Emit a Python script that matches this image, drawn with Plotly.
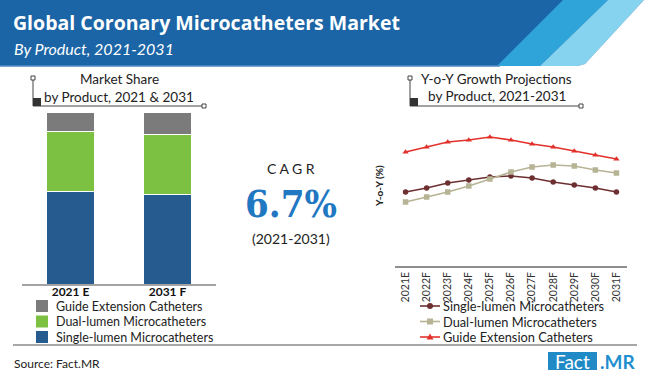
import plotly.graph_objects as go

W, H = 650, 379

# ---------------- data ----------------
bar_categories = ["2021 E", "2031 F"]
single_share = [53.5, 52.3]
dual_share = [34.9, 34.9]
guide_share = [11.6, 12.8]

years = ["2021E", "2022F", "2023F", "2024F", "2025F", "2026F",
         "2027F", "2028F", "2029F", "2030F", "2031F"]
single_yoy = [7.4, 7.8, 8.3, 8.6, 8.9, 9.0, 8.8, 8.4, 8.1, 7.8, 7.4]
dual_yoy = [6.4, 6.9, 7.4, 8.0, 8.7, 9.4, 9.9, 10.1, 10.0, 9.6, 9.3]
guide_yoy = [11.4, 11.9, 12.4, 12.6, 12.9, 12.6, 12.2, 11.9, 11.5, 11.1, 10.7]

name_single = "Single-lumen Microcatheters"
name_dual = "Dual-lumen Microcatheters"
name_guide = "Guide Extension Catheters"

title_text = "Global Coronary Microcatheters Market"
subtitle_text = "By Product, 2021-2031"
cagr_value = "6.7%"
cagr_period = "(2021-2031)"

# ---------------- styles ----------------
C_BLUE_BAR = "#255b8e"
C_GREEN = "#7cc142"
C_GREY = "#7b7b7b"
C_RED = "#e2312b"
C_BROWN = "#6d2f30"
C_TAN = "#b7b395"
HEAD = "#1b65a6"
FONT = "Lato"


def px(x):
    return x / W


def py(y):
    return 1 - y / H


fig = go.Figure()

# stacked bars
for vals, name, col in [(single_share, name_single, C_BLUE_BAR),
                        (dual_share, name_dual, C_GREEN),
                        (guide_share, name_guide, C_GREY)]:
    fig.add_trace(go.Bar(x=bar_categories, y=vals, name=name, marker_color=col,
                         marker_line_color="white", marker_line_width=1,
                         width=0.49, xaxis="x", yaxis="y", showlegend=False))

# lines
for vals, name, col, sym in [(single_yoy, name_single, C_BROWN, "circle"),
                             (dual_yoy, name_dual, C_TAN, "square"),
                             (guide_yoy, name_guide, C_RED, "triangle-up")]:
    fig.add_trace(go.Scatter(x=years, y=vals, name=name, mode="lines+markers",
                             line=dict(color=col, width=1.6),
                             marker=dict(color=col, size=5.5, symbol=sym),
                             xaxis="x2", yaxis="y2", showlegend=False))

shapes = []
ann = []

# header
shapes.append(dict(type="rect", xref="paper", yref="paper", x0=0, x1=1,
                   y0=py(66), y1=1, fillcolor=HEAD, line_width=0, layer="below"))
shapes.append(dict(type="path", xref="paper", yref="paper",
                   path=f"M {px(563)} {py(0)} L {px(608)} {py(0)} L {px(540)} {py(66)} L {px(497)} {py(66)} Z",
                   fillcolor="#2ea4d9", line_width=0, layer="below"))
shapes.append(dict(type="path", xref="paper", yref="paper",
                   path=f"M {px(608)} {py(0)} L {px(644)} {py(0)} L {px(585)} {py(64)} L {px(578)} {py(66)} L {px(540)} {py(66)} Z",
                   fillcolor="#86d3f0", line_width=0, layer="below"))
shapes.append(dict(type="path", xref="paper", yref="paper",
                   path=f"M {px(644)} {py(0)} L {px(650)} {py(0)} L {px(650)} {py(66)} L {px(578)} {py(66)} L {px(585)} {py(64)} Z",
                   fillcolor="white", line_width=0, layer="below"))
shapes.append(dict(type="line", xref="paper", yref="paper", x0=0, x1=px(500),
                   y0=py(66), y1=py(66), line=dict(color="#4f8cc4", width=1.5)))

ann.append(dict(text=f"<b>{title_text}</b>", x=px(11), y=py(22), xref="paper", yref="paper",
                xanchor="left", yanchor="middle", showarrow=False,
                font=dict(family="Open Sans", size=19.5, color="white")))
ann.append(dict(text=f"<i>{subtitle_text}</i>", x=px(12), y=py(48), xref="paper", yref="paper",
                xanchor="left", yanchor="middle", showarrow=False,
                font=dict(family=FONT, size=16, color="white")))


def bracket(xl, xr, ytop, ybot):
    out = []
    out.append(dict(type="line", xref="paper", yref="paper", x0=px(xl), x1=px(xl),
                    y0=py(ytop + 2), y1=py(ybot), line=dict(color="#444", width=1)))
    out.append(dict(type="line", xref="paper", yref="paper", x0=px(xl), x1=px(xr - 2),
                    y0=py(ybot), y1=py(ybot), line=dict(color="#444", width=1)))
    out.append(dict(type="rect", xref="paper", yref="paper", x0=px(xl - 2), x1=px(xl + 2),
                    y0=py(ytop + 2), y1=py(ytop - 2), line=dict(color="#444", width=1),
                    fillcolor="white"))
    out.append(dict(type="rect", xref="paper", yref="paper", x0=px(xr - 2), x1=px(xr + 2),
                    y0=py(ybot + 2), y1=py(ybot - 2), line=dict(color="#444", width=1),
                    fillcolor="white"))
    out.append(dict(type="rect", xref="paper", yref="paper", x0=px(xl), x1=px(xl + 8),
                    y0=py(ybot), y1=py(ybot - 8), line_width=0, fillcolor="#333"))
    return out


shapes += bracket(33, 204, 78, 106)
shapes += bracket(410, 581, 78, 106)

for txt, x, y in [("Market Share", 119, 79), ("by Product, 2021 & 2031", 119, 97),
                  ("Y-o-Y Growth Projections", 496, 79), ("by Product, 2021-2031", 497, 96)]:
    ann.append(dict(text=txt, x=px(x), y=py(y), xref="paper", yref="paper",
                    xanchor="center", yanchor="middle", showarrow=False,
                    font=dict(family=FONT, size=13.5, color="#222")))

# CAGR block
ann.append(dict(text="C A G R", x=px(291), y=py(168), xref="paper", yref="paper",
                showarrow=False, font=dict(family=FONT, size=14, color="#222")))
ann.append(dict(text=f"<b>{cagr_value}</b>", x=px(291), y=py(203), xref="paper", yref="paper",
                showarrow=False, font=dict(family="DejaVu Serif Condensed", size=38, color="#1f78c1")))
ann.append(dict(text=cagr_period, x=px(291), y=py(238), xref="paper", yref="paper",
                showarrow=False, font=dict(family=FONT, size=14, color="#222")))

# y axis title of line chart
ann.append(dict(text="<b>Y-o-Y (%)</b>", x=px(379), y=py(186), xref="paper", yref="paper",
                textangle=-90, showarrow=False, font=dict(family=FONT, size=10, color="#222")))

# bar legend (manual)
for (name, col), y in zip([(name_guide, C_GREY), (name_dual, C_GREEN), (name_single, C_BLUE_BAR)],
                          [306, 321.5, 337]):
    shapes.append(dict(type="rect", xref="paper", yref="paper", x0=px(36), x1=px(48),
                       y0=py(y + 6), y1=py(y - 6), fillcolor=col, line_width=0))
    ann.append(dict(text=name, x=px(54), y=py(y), xref="paper", yref="paper",
                    xanchor="left", yanchor="middle", showarrow=False,
                    font=dict(family=FONT, size=12.5, color="#222")))

# line legend (manual)
for (name, col, sym), y in zip([(name_single, C_BROWN, "circle"), (name_dual, C_TAN, "square"),
                                (name_guide, C_RED, "tri")], [306, 321.5, 337]):
    shapes.append(dict(type="line", xref="paper", yref="paper", x0=px(420), x1=px(440),
                       y0=py(y), y1=py(y), line=dict(color=col, width=1.6)))
    if sym == "circle":
        shapes.append(dict(type="circle", xref="paper", yref="paper", x0=px(427), x1=px(433),
                           y0=py(y + 3), y1=py(y - 3), fillcolor=col, line_width=0))
    elif sym == "square":
        shapes.append(dict(type="rect", xref="paper", yref="paper", x0=px(427), x1=px(433),
                           y0=py(y + 3), y1=py(y - 3), fillcolor=col, line_width=0))
    else:
        shapes.append(dict(type="path", xref="paper", yref="paper",
                           path=f"M {px(426.5)} {py(y + 2.5)} L {px(433.5)} {py(y + 2.5)} L {px(430)} {py(y - 3.5)} Z",
                           fillcolor=col, line_width=0))
    ann.append(dict(text=name, x=px(441), y=py(y), xref="paper", yref="paper",
                    xanchor="left", yanchor="middle", showarrow=False,
                    font=dict(family=FONT, size=12.8, color="#222")))

# footer
shapes.append(dict(type="line", xref="paper", yref="paper", x0=px(13), x1=px(637),
                   y0=py(345), y1=py(345), line=dict(color="#8a8a8a", width=1.5)))
ann.append(dict(text="Source: Fact.MR", x=px(12), y=py(363), xref="paper", yref="paper",
                xanchor="left", yanchor="middle", showarrow=False,
                font=dict(family=FONT, size=12, color="#222")))
shapes.append(dict(type="rect", xref="paper", yref="paper", x0=px(548), x1=px(597),
                   y0=py(370), y1=py(352), fillcolor="#1f8ac6", line_width=0))
ann.append(dict(text="Fact", x=px(572.5), y=py(361), xref="paper", yref="paper",
                xanchor="center", yanchor="middle", showarrow=False,
                font=dict(family=FONT, size=19, color="white")))
ann.append(dict(text="<b>.MR</b>", x=px(598), y=py(361), xref="paper", yref="paper",
                xanchor="left", yanchor="middle", showarrow=False,
                font=dict(family=FONT, size=19, color="#1f8fd0")))

fig.update_layout(
    width=W, height=H, autosize=False,
    margin=dict(l=0, r=0, t=0, b=0),
    paper_bgcolor="white", plot_bgcolor="white",
    barmode="stack", bargap=0.5,
    showlegend=False,
    shapes=shapes, annotations=ann,
    xaxis=dict(domain=[px(22), px(216)], range=[-0.5, 1.5], type="category",
               showline=True, linecolor="#a3a3a3", linewidth=2, showgrid=False,
               ticks="", tickfont=dict(family=FONT, size=12, color="#111"),
               ticklabelstandoff=-4,
               tickprefix="<b>", ticksuffix="</b>", fixedrange=True),
    yaxis=dict(domain=[py(284), py(112)], range=[0, 100], visible=False, fixedrange=True),
    xaxis2=dict(domain=[px(395), px(627)], range=[-0.5, 10.5], type="category",
                anchor="y2", showline=True, linecolor="#8f8f8f", linewidth=1.5,
                showgrid=False, ticks="", tickangle=-90,
                tickfont=dict(family=FONT, size=10.5, color="#333"), fixedrange=True),
    yaxis2=dict(domain=[py(266), py(106)], range=[0, 16], anchor="x2", visible=False,
                fixedrange=True),
)

fig.write_html("out.html", config={"displayModeBar": False},
               post_script="document.body.style.margin='0px';document.body.style.padding='0px';document.body.style.overflow='hidden';")
